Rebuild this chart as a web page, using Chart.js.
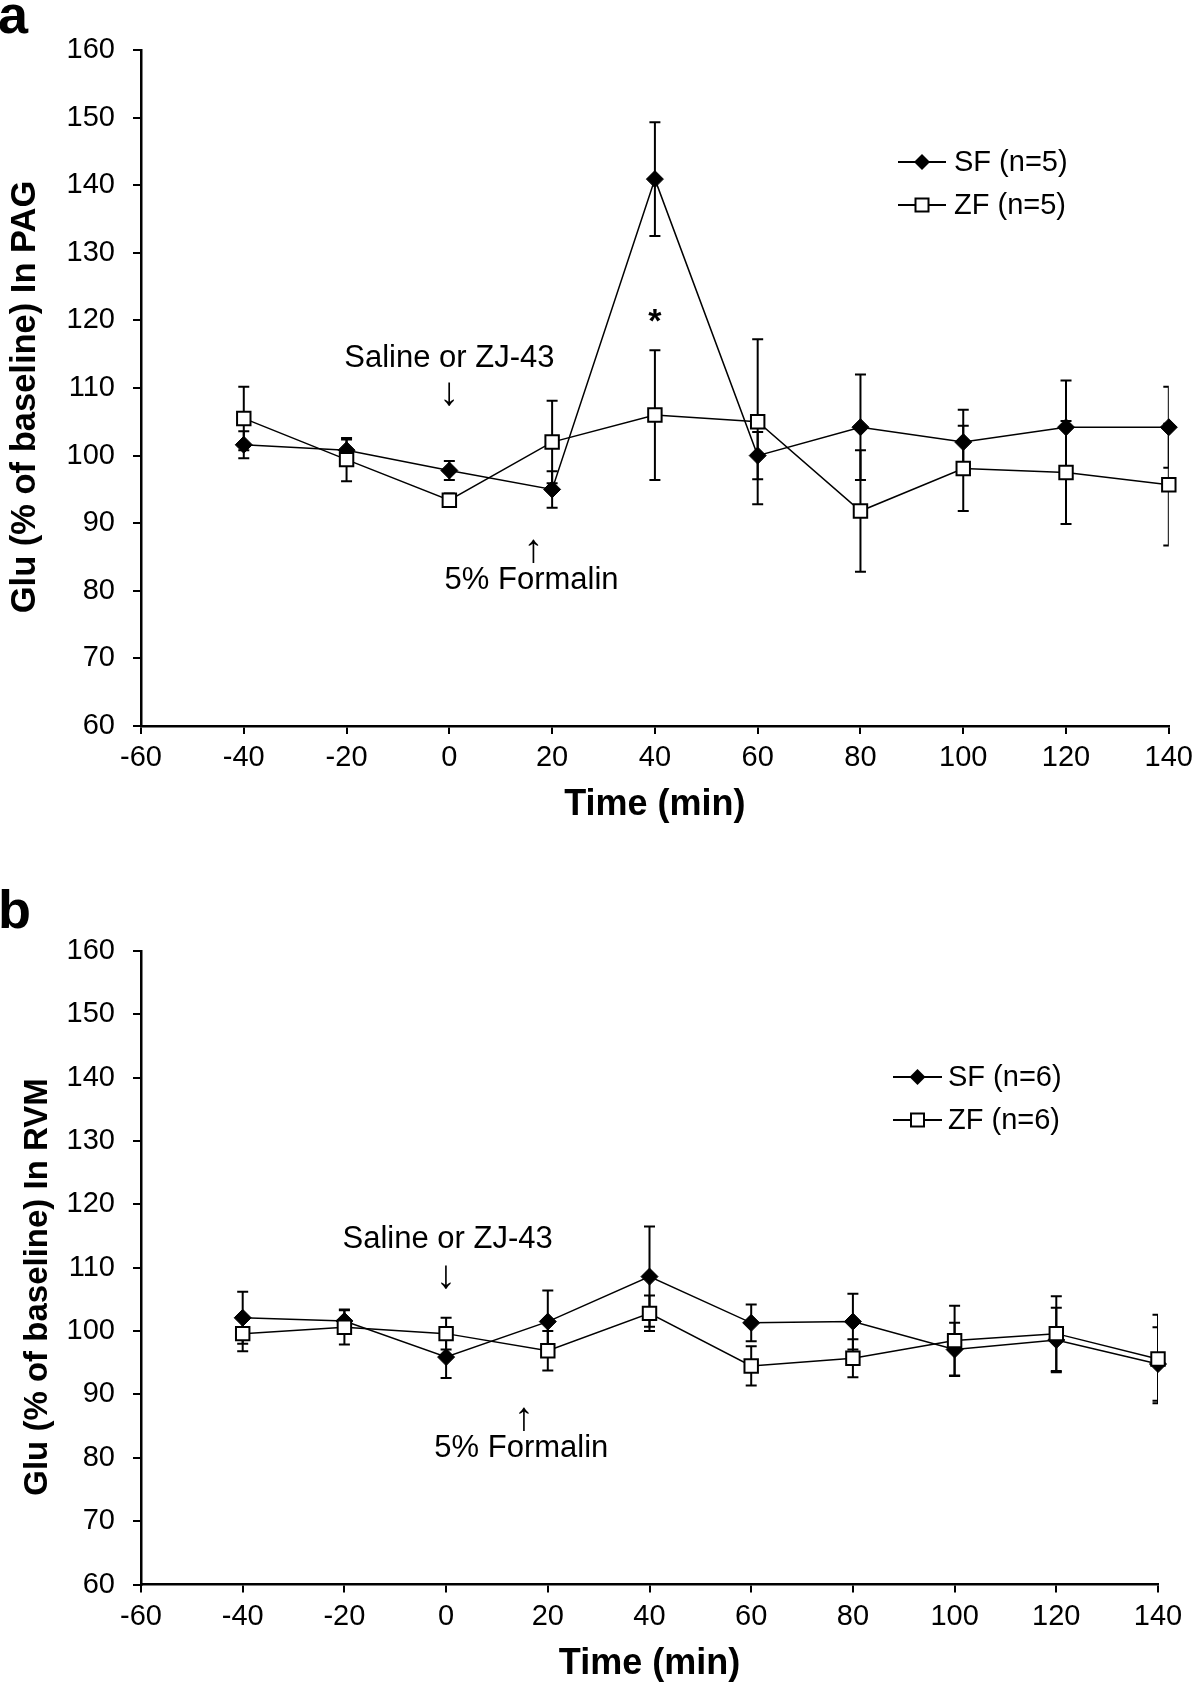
<!DOCTYPE html>
<html>
<head>
  <meta charset="UTF-8">
  <title>Glu in PAG and RVM</title>
  <script src="https://cdn.jsdelivr.net/npm/chart.js"></script>
  <style>
    body { margin: 0; background: #fff; }
    .page { position: relative; width: 1200px; height: 1685px; overflow: hidden; }
    canvas { position: absolute; left: 0; display: block; }
    #chartA { top: 0; }
    #chartB { top: 840px; }
    .tag { position: absolute; left: -2px; font: bold 54px "Liberation Sans", Arial, sans-serif; line-height: 54px; color: #000; }
  </style>
</head>
<body>
  <div class="page">
    <canvas id="chartA" width="1200" height="840"></canvas>
    <canvas id="chartB" width="1200" height="845"></canvas>
    <div class="tag" style="top:-13px">a</div>
    <div class="tag" style="top:882px">b</div>
  </div>

  <script>
    // sampling times (min) and axis ranges
    const minutes = [-40, -20, 0, 20, 40, 60, 80, 100, 120, 140];
    const xMin = -60, xMax = 140, xStep = 20;
    const yMin = 60, yMax = 160, yStep = 10;

    // panel a: PAG, mean and SEM (% of baseline)
    const pagSF    = [101.6, 100.8, 97.8, 95.0, 140.9, 100.0, 104.2, 102.0, 104.2, 104.2];
    const pagSFErr = [2.0, 1.6, 1.4, 2.7, 8.4, 3.5, 7.8, 4.8, 6.9, 6.0];
    const pagZF    = [105.5, 99.4, 93.4, 102.0, 106.0, 105.0, 91.8, 98.1, 97.5, 95.7];
    const pagZFErr = [4.7, 3.2, 1.0, 6.1, 9.6, 12.2, 9.0, 6.3, 7.6, 9.0];

    // panel b: RVM
    const rvmSF    = [102.1, 101.6, 95.9, 101.5, 108.6, 101.3, 101.5, 97.1, 98.6, 94.8];
    const rvmSFErr = [4.1, 1.8, 3.3, 4.9, 7.9, 2.9, 4.4, 4.2, 5.1, 5.8];
    const rvmZF    = [99.6, 100.6, 99.6, 96.9, 102.8, 94.5, 95.7, 98.5, 99.6, 95.6];
    const rvmZFErr = [2.8, 2.7, 2.5, 3.1, 2.8, 3.1, 3.0, 5.5, 5.9, 7.0];

    const SANS = '"Liberation Sans", Arial, sans-serif';

    const pts = vals => minutes.map((t, i) => ({ x: t, y: vals[i] }));

    // SEM bars, drawn under the markers
    const errorBars = {
      id: 'errorBars',
      beforeDatasetsDraw(chart) {
        const { ctx, chartArea, scales: { x, y } } = chart;
        ctx.save();
        ctx.beginPath();
        ctx.rect(0, 0, chartArea.right, chart.height);
        ctx.clip();
        ctx.strokeStyle = '#000';
        ctx.lineWidth = 2;
        chart.data.datasets.forEach(ds => {
          ds.data.forEach((p, i) => {
            const e = ds.errors[i];
            const px = x.getPixelForValue(p.x);
            const hi = y.getPixelForValue(p.y + e);
            const lo = y.getPixelForValue(p.y - e);
            ctx.beginPath();
            ctx.moveTo(px, hi); ctx.lineTo(px, lo);
            ctx.moveTo(px - 5.5, hi); ctx.lineTo(px + 5.5, hi);
            ctx.moveTo(px - 5.5, lo); ctx.lineTo(px + 5.5, lo);
            ctx.stroke();
          });
        });
        ctx.restore();
      }
    };

    // text notes placed in data coordinates
    const notes = {
      id: 'notes',
      afterDatasetsDraw(chart, args, opts) {
        const { ctx, scales: { x, y } } = chart;
        ctx.save();
        ctx.fillStyle = '#000';
        ctx.textAlign = 'center';
        ctx.textBaseline = 'middle';
        opts.items.forEach(n => {
          ctx.font = n.font;
          ctx.fillText(n.text, x.getPixelForValue(n.x), y.getPixelForValue(n.y));
        });
        ctx.restore();
      }
    };

    // rotated y-axis title (placed a bit below the plot centre, like the original)
    const sideTitle = {
      id: 'sideTitle',
      afterDraw(chart, args, opts) {
        const { ctx } = chart;
        ctx.save();
        ctx.translate(opts.x, opts.y);
        ctx.rotate(-Math.PI / 2);
        ctx.fillStyle = '#000';
        ctx.font = 'bold ' + opts.size + 'px ' + SANS;
        ctx.textAlign = 'center';
        ctx.textBaseline = 'middle';
        ctx.fillText(opts.text, 0, 0);
        ctx.restore();
      }
    };

    // legend with line-through markers
    const keyBox = {
      id: 'keyBox',
      afterDraw(chart, args, opts) {
        const { ctx } = chart;
        chart.data.datasets.forEach((ds, i) => {
          const yy = opts.y[i];
          ctx.save();
          ctx.strokeStyle = '#000';
          ctx.lineWidth = 2;
          ctx.beginPath();
          ctx.moveTo(opts.x0, yy); ctx.lineTo(opts.x1, yy);
          ctx.stroke();
          const cx = (opts.x0 + opts.x1) / 2;
          if (ds.pointStyle === 'rectRot') {
            ctx.fillStyle = '#000';
            ctx.beginPath();
            ctx.moveTo(cx - 8, yy); ctx.lineTo(cx, yy - 8); ctx.lineTo(cx + 8, yy); ctx.lineTo(cx, yy + 8);
            ctx.closePath();
            ctx.fill();
          } else {
            ctx.fillStyle = '#fff';
            ctx.fillRect(cx - 6.5, yy - 6.5, 13, 13);
            ctx.strokeRect(cx - 6.5, yy - 6.5, 13, 13);
          }
          ctx.fillStyle = '#000';
          ctx.font = '29px ' + SANS;
          ctx.textAlign = 'left';
          ctx.textBaseline = 'middle';
          ctx.fillText(ds.label, opts.textX, yy + 1);
          ctx.restore();
        });
      }
    };

    function buildChart(id, p) {
      return new Chart(document.getElementById(id), {
        type: 'line',
        data: {
          datasets: [
            {
              label: p.sfLabel, data: pts(p.sf), errors: p.sfErr, order: 2,
              borderColor: '#000', borderWidth: 1.5, tension: 0, clip: false,
              pointStyle: 'rectRot', pointRadius: 8.5, pointBackgroundColor: '#000',
              pointBorderColor: '#000', pointBorderWidth: 1
            },
            {
              label: p.zfLabel, data: pts(p.zf), errors: p.zfErr, order: 1,
              borderColor: '#000', borderWidth: 1.5, tension: 0, clip: false,
              pointStyle: 'rect', pointRadius: 9.5, pointBackgroundColor: '#fff',
              pointBorderColor: '#000', pointBorderWidth: 2
            }
          ]
        },
        options: {
          responsive: false,
          animation: false,
          events: [],
          layout: { padding: { top: p.top, right: p.right, left: 0, bottom: 0 } },
          scales: {
            x: {
              type: 'linear', min: xMin, max: xMax,
              afterFit: s => { s.height = p.xAxisH; },
              border: { display: true, color: '#000', width: 2.5 },
              grid: { drawOnChartArea: false, drawTicks: true, tickLength: 8, color: '#000', lineWidth: 2 },
              ticks: { stepSize: xStep, autoSkip: false, maxRotation: 0, color: '#000', padding: 7, font: { family: SANS, size: 29 } },
              title: { display: true, text: 'Time (min)', color: '#000', padding: { top: 0, bottom: p.xTitlePad }, font: { family: SANS, size: 36, weight: 'bold', lineHeight: 1 } }
            },
            y: {
              min: yMin, max: yMax,
              afterFit: s => { s.width = 141; },
              border: { display: true, color: '#000', width: 2.5 },
              grid: { drawOnChartArea: false, drawTicks: true, tickLength: 8, color: '#000', lineWidth: 2 },
              ticks: { stepSize: yStep, autoSkip: false, color: '#000', padding: 18, font: { family: SANS, size: 29 } }
            }
          },
          plugins: {
            legend: { display: false },
            tooltip: { enabled: false },
            notes: { items: p.notes },
            keyBox: p.key,
            sideTitle: p.yTitle
          }
        },
        plugins: [errorBars, notes, keyBox, sideTitle]
      });
    }

    const note = '31px ' + SANS;
    const arrow = '40px ' + SANS;

    buildChart('chartA', {
      sf: pagSF, sfErr: pagSFErr, zf: pagZF, zfErr: pagZFErr,
      sfLabel: 'SF (n=5)', zfLabel: 'ZF (n=5)',
      yTitle: { text: 'Glu (% of baseline) In PAG', x: 25, y: 397, size: 34.5 },
      top: 50, right: 29, xAxisH: 114, xTitlePad: 17,
      key: { x0: 898, x1: 946, textX: 954, y: [162, 205] },
      notes: [
        { text: 'Saline or ZJ-43', x: 0, y: 114.4, font: note },
        { text: '\u2193', x: 0, y: 109.1, font: arrow },
        { text: '\u2191', x: 16.4, y: 85.9, font: arrow },
        { text: '5% Formalin', x: 16, y: 81.6, font: note },
        { text: '*', x: 40, y: 119.6, font: 'bold 34px ' + SANS }
      ]
    });

    buildChart('chartB', {
      sf: rvmSF, sfErr: rvmSFErr, zf: rvmZF, zfErr: rvmZFErr,
      sfLabel: 'SF (n=6)', zfLabel: 'ZF (n=6)',
      yTitle: { text: 'Glu (% of baseline) In RVM', x: 38, y: 447, size: 33 },
      top: 111, right: 42, xAxisH: 100.5, xTitlePad: 3,
      key: { x0: 893, x1: 942, textX: 948, y: [237, 280] },
      notes: [
        { text: 'Saline or ZJ-43', x: 0.3, y: 114.4, font: note },
        { text: '\u2193', x: 0, y: 108.5, font: arrow },
        { text: '\u2191', x: 15.3, y: 86.1, font: arrow },
        { text: '5% Formalin', x: 14.8, y: 81.5, font: note }
      ]
    });
  </script>
</body>
</html>
